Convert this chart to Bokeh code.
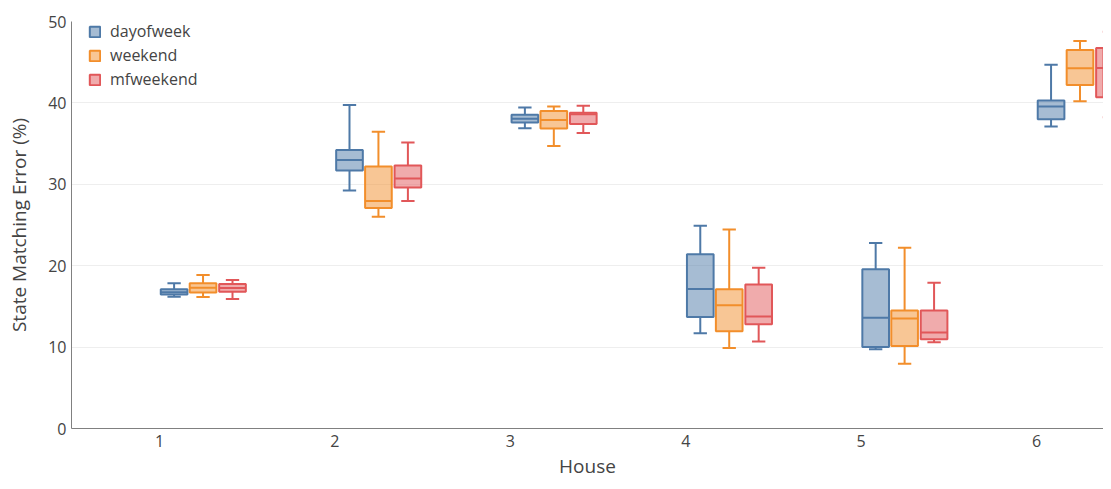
from bokeh.plotting import figure
from bokeh.models import Range1d, FixedTicker, Legend, LegendItem
from bokeh.embed import file_html
from bokeh.resources import INLINE

houses = [1, 2, 3, 4, 5, 6]
series = ["dayofweek", "weekend", "mfweekend"]

dow_low = [16.2, 29.25, 36.9, 11.7, 9.75, 37.1]
dow_q1 = [16.45, 31.7, 37.6, 13.7, 10.0, 38.0]
dow_med = [16.75, 33.0, 38.05, 17.15, 13.6, 39.55]
dow_q3 = [17.1, 34.2, 38.55, 21.4, 19.55, 40.3]
dow_high = [17.85, 39.75, 39.45, 24.9, 22.8, 44.7]

wk_low = [16.15, 26.0, 34.7, 9.9, 7.95, 40.2]
wk_q1 = [16.7, 27.1, 36.85, 11.95, 10.15, 42.2]
wk_med = [17.3, 27.95, 37.9, 15.15, 13.5, 44.25]
wk_q3 = [17.85, 32.2, 39.0, 17.1, 14.5, 46.5]
wk_high = [18.85, 36.45, 39.55, 24.45, 22.2, 47.6]

mf_low = [15.9, 27.95, 36.3, 10.7, 10.6, 38.25]
mf_q1 = [16.8, 29.6, 37.4, 12.8, 10.95, 40.7]
mf_med = [17.25, 30.7, 38.6, 13.75, 11.8, 44.3]
mf_q3 = [17.75, 32.3, 38.8, 17.7, 14.5, 46.75]
mf_high = [18.25, 35.15, 39.65, 19.75, 17.9, 48.75]

line_colors = ["#4e79a7", "#f28e2b", "#e15759"]
offsets = [0.083, 0.248, 0.416]
box_w = 0.152
cap_w = 0.076

data = [
    (dow_low, dow_q1, dow_med, dow_q3, dow_high),
    (wk_low, wk_q1, wk_med, wk_q3, wk_high),
    (mf_low, mf_q1, mf_med, mf_q3, mf_high),
]

p = figure(width=1103, height=481, output_backend="svg", toolbar_location=None,
           x_range=Range1d(0.498, 6.382), y_range=Range1d(0, 50),
           min_border_left=71, min_border_right=0, min_border_top=21, min_border_bottom=52)
p.outline_line_color = None
p.background_fill_color = "white"

items = []
for name, col, off, (lo, q1, med, q3, hi) in zip(series, line_colors, offsets, data):
    xs = [h + off for h in houses]
    p.segment(x0=xs, y0=q3, x1=xs, y1=hi, line_color=col, line_width=2)
    p.segment(x0=xs, y0=lo, x1=xs, y1=q1, line_color=col, line_width=2)
    p.segment(x0=[x - cap_w / 2 for x in xs], y0=hi, x1=[x + cap_w / 2 for x in xs], y1=hi,
              line_color=col, line_width=2)
    p.segment(x0=[x - cap_w / 2 for x in xs], y0=lo, x1=[x + cap_w / 2 for x in xs], y1=lo,
              line_color=col, line_width=2)
    r = p.vbar(x=xs, width=box_w, bottom=q1, top=q3, fill_color=col, fill_alpha=0.5,
               line_color=col, line_width=2)
    p.segment(x0=[x - box_w / 2 for x in xs], y0=med, x1=[x + box_w / 2 for x in xs], y1=med,
              line_color=col, line_width=2)
    items.append(LegendItem(label=name, renderers=[r]))

legend = Legend(items=items, location=(17, 338), border_line_color=None,
                background_fill_alpha=0, padding=0, margin=0, spacing=2,
                glyph_width=13, glyph_height=13, label_height=16, label_standoff=9,
                label_text_font="Open Sans", label_text_font_size="16px",
                label_text_color="#444444")
p.add_layout(legend)

p.xaxis.ticker = FixedTicker(ticks=houses)
p.yaxis.ticker = FixedTicker(ticks=[0, 10, 20, 30, 40, 50])
p.xgrid.grid_line_color = None
p.ygrid.ticker = FixedTicker(ticks=[10, 20, 30, 40])
p.ygrid.grid_line_color = "#eeeeee"
p.ygrid.grid_line_width = 1

for ax in (p.xaxis, p.yaxis):
    ax.major_tick_line_color = None
    ax.minor_tick_line_color = None
    ax.major_tick_in = 0
    ax.major_tick_out = 0
    ax.minor_tick_in = 0
    ax.minor_tick_out = 0
    ax.axis_line_color = "#808080"
    ax.axis_line_width = 1
    ax.major_label_text_font = "Open Sans"
    ax.major_label_text_font_size = "16px"
    ax.major_label_text_color = "#444444"
    ax.axis_label_text_font = "Open Sans"
    ax.axis_label_text_font_size = "19px"
    ax.axis_label_text_font_style = "normal"
    ax.axis_label_text_color = "#444444"

p.xaxis.axis_label = "House"
p.yaxis.axis_label = "State Matching Error (%)"
p.xaxis.major_label_standoff = 6
p.yaxis.major_label_standoff = 5
p.xaxis.axis_label_standoff = 3
p.yaxis.axis_label_standoff = 13

open("out.html", "w").write(file_html(p, INLINE))
